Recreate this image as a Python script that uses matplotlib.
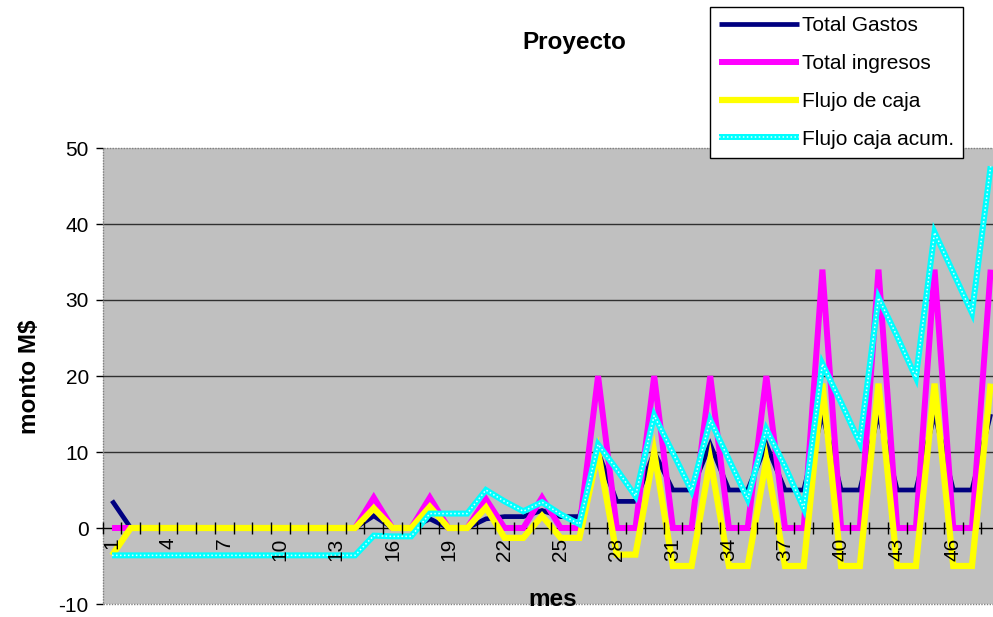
import numpy as np
import matplotlib
matplotlib.use("Agg")
import matplotlib.pyplot as plt
from matplotlib.patches import Rectangle
from matplotlib.legend_handler import HandlerTuple

plt.rcParams['font.family'] = ['Liberation Sans', 'DejaVu Sans']
plt.rcParams['axes.unicode_minus'] = False

# Monthly project figures (M$)
meses = list(range(1, 49))

total_gastos = [3.6, 0, 0, 0, 0, 0, 0, 0, 0, 0, 0, 0, 0, 0,
                1.6, 0, 0, 1.2, 0, 0, 1.2, 1.5, 1.5, 2.3, 1.5, 1.5,
                10, 3.5, 3.5, 10, 5, 5, 11, 5, 5, 11, 5, 5,
                15, 5, 5, 15, 5, 5, 15, 5, 5, 15]

total_ingresos = [0, 0, 0, 0, 0, 0, 0, 0, 0, 0, 0, 0, 0, 0,
                  4, 0, 0, 4, 0, 0, 3.8, 0, 0, 4, 0, 0,
                  20, 0, 0, 20, 0, 0, 20, 0, 0, 20, 0, 0,
                  34, 0, 0, 34, 0, 0, 34, 0, 0, 34]

flujo_caja = [-3.6, 0, 0, 0, 0, 0, 0, 0, 0, 0, 0, 0, 0, 0,
              2.6, 0, 0, 2.8, 0, 0, 2.7, -1.3, -1.3, 1.6, -1.3, -1.3,
              10, -3.5, -3.5, 10, -5, -5, 9, -5, -5, 9, -5, -5,
              19, -5, -5, 19, -5, -5, 19, -5, -5, 19]

flujo_acum = [-3.6, -3.6, -3.6, -3.6, -3.6, -3.6, -3.6, -3.6, -3.6, -3.6,
              -3.6, -3.6, -3.6, -3.6,
              -1.0, -1.1, -1.1, 1.9, 1.9, 1.9, 5.0, 3.5, 2.2, 3.4, 1.8, 0.5,
              11.0, 7.7, 4.2, 14.8, 9.9, 4.9, 14.2, 9.0, 3.8, 13.0, 8.1, 2.6,
              21.6, 16.5, 11.2, 30.3, 25.2, 19.8, 38.9, 33.6, 28.3, 47.6]

etiquetas_mes = [str(m) for m in range(1, 49, 3)]
series_names = ["Total Gastos", "Total ingresos", "Flujo de caja", "Flujo caja acum."]

W, H = 993, 617
fig = plt.figure(figsize=(W / 100, H / 100), dpi=100)
left_px, right_px, top_px, bot_px = 102.7, 1000.0, 148.0, 604.0
ax = fig.add_axes([left_px / W, 1 - bot_px / H,
                   (right_px - left_px) / W, (bot_px - top_px) / H])
ax.set_facecolor('#C0C0C0')
ax.set_xlim(0.5, 48.5)
ax.set_ylim(-10, 50)

line_kw = dict(solid_joinstyle='miter', solid_capstyle='butt')
l1, = ax.plot(meses, total_gastos, color='#000080', lw=3.4, zorder=3, **line_kw)
l2, = ax.plot(meses, total_ingresos, color='#FF00FF', lw=4.3, zorder=4, **line_kw)
l3, = ax.plot(meses, flujo_caja, color='#FFFF00', lw=4.5, zorder=5, **line_kw)
l4, = ax.plot(meses, flujo_acum, color='#00FFFF', lw=4.3, zorder=6, **line_kw)
l4b, = ax.plot(meses, flujo_acum, color='#E0FFFF', lw=1.1, ls=(0, (1, 1.6)), zorder=7)

# horizontal gridlines
ax.set_yticks(np.arange(-10, 51, 10))
ax.yaxis.grid(True, color='#303030', lw=1.0)
for gl, val in zip(ax.get_ygridlines(), ax.get_yticks()):
    if val in (-10, 50, 0):
        gl.set_visible(False)
ax.set_axisbelow(True)

# category axis crossing at zero
for s in ('left', 'right', 'top'):
    ax.spines[s].set_visible(False)
ax.spines['bottom'].set_position(('data', 0))
ax.spines['bottom'].set_color('black')
ax.spines['bottom'].set_linewidth(1.0)
ax.spines['bottom'].set_zorder(2.5)

ax.add_patch(Rectangle((0, 0), 1, 1, transform=ax.transAxes, fill=False,
                       ls=(0, (1, 1)), ec='#808080', lw=1.0, clip_on=False, zorder=1))

ax.set_xticks(list(range(1, 49, 3)))
ax.set_xticklabels(etiquetas_mes)
ax.set_xticks(np.arange(0.5, 49, 1), minor=True)
ax.tick_params(axis='x', which='major', length=0, pad=7, labelsize=15, labelrotation=90)
ax.tick_params(axis='x', which='minor', direction='inout', length=8, width=1, color='black')
ax.tick_params(axis='y', direction='out', length=5, width=1, color='black', pad=5, labelsize=15)
ax.xaxis.set_zorder(9)

fig.text(574 / W, 1 - 43 / H, 'Proyecto', fontsize=17.5, fontweight='bold', ha='center', va='center')
fig.text(30 / W, 1 - 377 / H, 'monto M$', fontsize=17.5, fontweight='bold', rotation=90,
         ha='center', va='center')
fig.text(553 / W, 1 - 600 / H, 'mes', fontsize=17.5, fontweight='bold', ha='center', va='center')

leg = fig.legend([l1, l2, l3, (l4, l4b)], series_names,
                 handler_map={tuple: HandlerTuple(ndivide=1, pad=0)},
                 loc='upper left', bbox_to_anchor=(710 / W, 1 - 7 / H),
                 borderaxespad=0, fontsize=15, handlelength=3.8, handletextpad=0.15,
                 labelspacing=0.9, borderpad=0.45, fancybox=False, framealpha=1,
                 edgecolor='black')
leg.get_frame().set_linewidth(1.0)

fig.savefig('out.png', dpi=100)
